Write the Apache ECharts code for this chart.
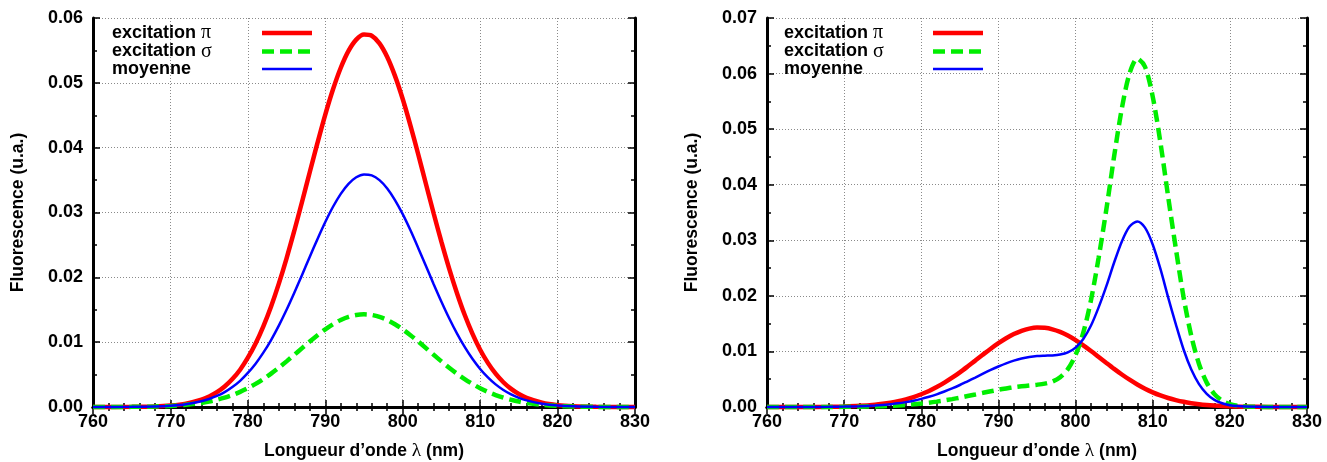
<!DOCTYPE html>
<html><head><meta charset="utf-8">
<script src="https://cdn.jsdelivr.net/npm/echarts@6/dist/echarts.min.js"></script>
<style>html,body{margin:0;padding:0;background:#fff}#c{width:1327px;height:462px}</style>
</head><body><div id="c"></div>
<script>
// ---- data ----
const seriesNames = ['excitation π', 'excitation σ', 'moyenne'];
const xTicks = [760, 770, 780, 790, 800, 810, 820, 830];

const wlLeft = [760,765,768,770,772,774,775,776,777,778,779,780,781,782,783,784,785,786,787,788,789,790,791,792,793,794,795,796,797,798,799,800,801,802,803,804,805,806,807,808,809,810,811,812,813,814,815,816,818,820,822,825,830];
const piLeft = [0,0.00002,0.00009,0.00023,0.00052,0.00113,0.00162,0.00228,0.00316,0.00431,0.00575,0.00760,0.00980,0.01245,0.01551,0.01903,0.02294,0.02719,0.03166,0.03625,0.04077,0.04510,0.04900,0.05233,0.05493,0.05667,0.05745,0.05726,0.05608,0.05398,0.05107,0.04750,0.04341,0.03898,0.03440,0.02985,0.02546,0.02134,0.01759,0.01422,0.01132,0.00884,0.00681,0.00514,0.00382,0.00279,0.00200,0.00141,0.00067,0.00029,0.00012,0.00003,0];
const sigmaLeft = [0,0.00002,0.00008,0.00017,0.00034,0.00063,0.00084,0.00111,0.00144,0.00184,0.00233,0.00290,0.00356,0.00431,0.00515,0.00606,0.00704,0.00805,0.00908,0.01010,0.01108,0.01198,0.01277,0.01342,0.01390,0.01420,0.01430,0.01420,0.01390,0.01342,0.01277,0.01198,0.01108,0.01010,0.00908,0.00805,0.00704,0.00606,0.00515,0.00431,0.00356,0.00290,0.00233,0.00184,0.00144,0.00111,0.00084,0.00063,0.00034,0.00017,0.00008,0.00002,0];
const meanLeft = [0,0.00002,0.00009,0.00020,0.00043,0.00088,0.00123,0.00170,0.00230,0.00308,0.00404,0.00525,0.00668,0.00838,0.01033,0.01255,0.01499,0.01762,0.02037,0.02318,0.02593,0.02854,0.03089,0.03288,0.03442,0.03544,0.03588,0.03573,0.03499,0.03370,0.03192,0.02974,0.02725,0.02454,0.02174,0.01895,0.01625,0.01370,0.01137,0.00927,0.00744,0.00587,0.00457,0.00349,0.00263,0.00195,0.00142,0.00102,0.00051,0.00023,0.00010,0.00003,0];

const wlRight = [760,765,768,770,772,774,775,776,777,778,779,780,781,782,783,784,785,786,787,788,789,790,791,792,793,794,795,796,797,798,799,800,801,802,803,804,805,806,807,808,809,810,811,812,813,814,815,816,817,818,819,820,821,822,825,830];
const piRight = [0,0.00001,0.00004,0.00010,0.00021,0.00041,0.00057,0.00078,0.00104,0.00138,0.00179,0.00230,0.00289,0.00359,0.00439,0.00527,0.00624,0.00728,0.00835,0.00943,0.01049,0.01148,0.01238,0.01313,0.01372,0.01411,0.01430,0.01425,0.01398,0.01351,0.01285,0.01203,0.01109,0.01007,0.00900,0.00792,0.00686,0.00585,0.00491,0.00406,0.00330,0.00264,0.00208,0.00162,0.00124,0.00093,0.00069,0.00050,0.00036,0.00026,0.00018,0.00012,0.00008,0.00005,0.00001,0];
const sigmaRight = [0,0,0.00001,0.00003,0.00006,0.00011,0.00015,0.00021,0.00028,0.00037,0.00048,0.00062,0.00078,0.00097,0.00119,0.00142,0.00168,0.00197,0.00225,0.00255,0.00283,0.00310,0.00334,0.00355,0.00372,0.00387,0.00401,0.00421,0.00458,0.00536,0.00681,0.00935,0.01338,0.01925,0.02694,0.03565,0.04513,0.05374,0.06002,0.06270,0.06123,0.05585,0.04759,0.03786,0.02849,0.01976,0.01281,0.00775,0.00439,0.00232,0.00115,0.00053,0.00024,0.00010,0,0];
const meanRight = [0,0.00001,0.00003,0.00007,0.00014,0.00026,0.00036,0.00050,0.00066,0.00088,0.00114,0.00146,0.00184,0.00228,0.00279,0.00335,0.00396,0.00463,0.00530,0.00599,0.00666,0.00729,0.00786,0.00834,0.00872,0.00899,0.00916,0.00923,0.00928,0.00944,0.00983,0.01069,0.01224,0.01466,0.01797,0.02179,0.02600,0.02980,0.03247,0.03338,0.03227,0.02925,0.02484,0.01974,0.01487,0.01035,0.00675,0.00413,0.00238,0.00129,0.00067,0.00033,0.00016,0.00008,0.00001,0];

const yMaxLeft = 0.06, yMaxRight = 0.07;

// ---- chart ----
const FONT = "'Liberation Sans', Arial, sans-serif";
const SERIF = "'Liberation Serif', 'DejaVu Serif', serif";
const fs = 18, fsName = 17.5, fsLeg = 18;
const pairs = (xs, ys) => xs.map((x, i) => [x, ys[i]]);

const lineAx = {show: true, lineStyle: {color: '#000', width: 3}};
const tick = {show: true, inside: true, length: 7, lineStyle: {color: '#000', width: 1.5}};
const grey = {show: true, lineStyle: {color: '#8a8a8a', width: 1, type: [1, 2]}};
const richG = {g: {fontFamily: SERIF, fontSize: 19.5, fontWeight: 'normal', color: '#000'}};

function xAxes(g) {
  return [
    {type: 'value', gridIndex: g, position: 'bottom', min: xTicks[0], max: xTicks[xTicks.length - 1], interval: 10,
     axisLine: lineAx, axisTick: tick,
     minorTick: {show: true, splitNumber: 5, length: 4, lineStyle: {color: '#000', width: 1.5}},
     axisLabel: {color: '#000', fontSize: fs, fontWeight: 'bold', fontFamily: FONT, margin: 6},
     splitLine: grey,
     name: 'Longueur d’onde {g|λ} (nm)', nameLocation: 'middle', nameGap: 34,
     nameTextStyle: {color: '#000', fontSize: fsName, fontWeight: 'bold', fontFamily: FONT, rich: richG}},
    {type: 'value', gridIndex: g, position: 'top', min: xTicks[0], max: xTicks[xTicks.length - 1], interval: 10,
     axisLine: lineAx, axisTick: tick,
     minorTick: {show: true, splitNumber: 5, length: 4, lineStyle: {color: '#000', width: 1.5}},
     axisLabel: {show: false}, splitLine: {show: false}}
  ];
}
function yAxes(g, max) {
  return [
    {type: 'value', gridIndex: g, position: 'left', min: 0, max: max, interval: 0.01,
     axisLine: lineAx, axisTick: tick,
     minorTick: {show: true, splitNumber: 2, length: 4, lineStyle: {color: '#000', width: 1.5}},
     axisLabel: {color: '#000', fontSize: fs, fontWeight: 'bold', fontFamily: FONT, margin: 10,
                 formatter: v => v.toFixed(2)},
     splitLine: grey,
     name: 'Fluorescence (u.a.)', nameLocation: 'middle', nameGap: 66, nameRotate: 90,
     nameTextStyle: {color: '#000', fontSize: fsName, fontWeight: 'bold', fontFamily: FONT}},
    {type: 'value', gridIndex: g, position: 'right', min: 0, max: max, interval: 0.01,
     axisLine: lineAx, axisTick: tick,
     minorTick: {show: true, splitNumber: 2, length: 4, lineStyle: {color: '#000', width: 1.5}},
     axisLabel: {show: false}, splitLine: {show: false}}
  ];
}

const styles = [
  {color: '#ff0000', width: 4.5, type: 'solid'},
  {color: '#00ee00', width: 4.5, type: [12, 6]},
  {color: '#0000ff', width: 2.5, type: 'solid'}
];
function mk(name, xs, ys, xi, yi, k) {
  return {type: 'line', name: name, data: pairs(xs, ys), xAxisIndex: xi, yAxisIndex: yi,
    showSymbol: false, symbol: 'none', smooth: 0.3, clip: false, z: 3 + k,
    lineStyle: styles[k], itemStyle: {color: styles[k].color}};
}
function legend(left, w) {
  return {show: true, orient: 'vertical', left: left, top: 23, padding: 0, itemGap: -1.5, align: 'right',
    itemWidth: 50, itemHeight: 14, selectedMode: false,
    data: seriesNames,
    lineStyle: {width: 'inherit'},
    itemStyle: {opacity: 0},
    formatter: n => {
      const m = n.match(/^(.*?)([πσ])$/);
      return m ? '{t|' + m[1] + '}{g|' + m[2] + '}' : '{t|' + n + '}';
    },
    textStyle: {color: '#000', fontSize: fsLeg, fontWeight: 'bold', fontFamily: FONT, width: w, lineHeight: 18,
      rich: {
        t: {align: 'left', fontSize: fsLeg, lineHeight: 18, fontWeight: 'bold', fontFamily: FONT, color: '#000'},
        g: {align: 'left', fontFamily: SERIF, fontSize: 20, lineHeight: 18, fontWeight: 'normal', color: '#000'}
      }}};
}

const chart = echarts.init(document.getElementById('c'));
chart.setOption({
  animation: false,
  backgroundColor: '#fff',
  grid: [
    {left: 93, top: 18, width: 542, height: 389, containLabel: false, outerBoundsMode: 'none'},
    {left: 767, top: 18, width: 540, height: 389, containLabel: false, outerBoundsMode: 'none'}
  ],
  xAxis: [...xAxes(0), ...xAxes(1)],
  yAxis: [...yAxes(0, yMaxLeft), ...yAxes(1, yMaxRight)],
  legend: [legend(112, 145), legend(784, 144)],
  series: [
    mk(seriesNames[0], wlLeft, piLeft, 0, 0, 0),
    mk(seriesNames[1], wlLeft, sigmaLeft, 0, 0, 1),
    mk(seriesNames[2], wlLeft, meanLeft, 0, 0, 2),
    mk(seriesNames[0], wlRight, piRight, 2, 2, 0),
    mk(seriesNames[1], wlRight, sigmaRight, 2, 2, 1),
    mk(seriesNames[2], wlRight, meanRight, 2, 2, 2)
  ]
});
</script></body></html>
